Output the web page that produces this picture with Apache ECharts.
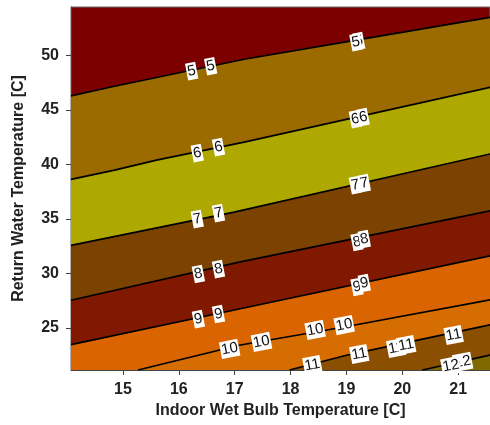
<!DOCTYPE html>
<html><head><meta charset="utf-8">
<script src="https://cdn.jsdelivr.net/npm/echarts@6/dist/echarts.min.js"></script>
<style>html,body{margin:0;padding:0;background:#fff}#c{width:490px;height:425px}</style>
</head><body><div id="c"></div>
<script>
const xTicks = [15, 16, 17, 18, 19, 20, 21];
const yTicks = [25, 30, 35, 40, 45, 50];
const levels = ['5', '6', '7', '8', '9', '10', '11', '12'];
const contour5  = [[14.07,46.27],[14.85,47.16],[15.6,47.96],[17.17,49.63],[19.2,51.4],[21.57,53.47]];
const contour6  = [[14.07,38.62],[14.85,39.47],[15.6,40.38],[17.17,42.03],[21.57,47.06]];
const contour7  = [[14.07,32.57],[16.99,35.62],[21.57,40.95]];
const contour8  = [[14.07,27.54],[17.08,31.04],[21.57,35.73]];
const contour9  = [[14.07,23.47],[17.08,26.74],[21.57,31.61]];
const contour10 = [[15.27,21.15],[17.08,23.42],[18.96,25.09],[21.57,27.58]];
const contour11 = [[17.98,21.15],[19.0,22.50],[19.98,23.56],[21.57,25.29]];
const contour12 = [[20.36,21.15],[21.57,22.52]];
const topColor = '#7d0000';
const bandColors = ['#9c6b00', '#afa800', '#7b4200', '#801900', '#da6500', '#d66d00', '#8a4f00', '#7f6a00'];
const contourLabels = [
  [16.23,48.54,'5'],[16.57,48.99,'5'],[19.22,51.30,'5'],[19.17,51.19,'5'],
  [16.33,41.03,'6'],[16.71,41.58,'6'],[19.16,44.14,'6'],[19.30,44.32,'6'],
  [16.33,34.98,'7'],[16.71,35.53,'7'],[19.16,38.10,'7'],[19.32,38.28,'7'],
  [16.35,29.95,'8'],[16.71,30.40,'8'],[19.19,32.88,'8'],[19.32,33.15,'8'],
  [16.35,25.82,'9'],[16.71,26.28,'9'],[19.19,28.76,'9'],[19.32,29.12,'9'],
  [16.91,23.08,'10'],[17.48,23.72,'10'],[18.44,24.82,'10'],[18.96,25.27,'10'],
  [18.39,21.61,'11'],[19.23,22.62,'11'],[19.89,23.17,'11'],[20.07,23.44,'11'],[20.92,24.36,'11'],
  [21.08,21.89,'12'],[20.87,21.52,'12']
];

const contours = [contour5, contour6, contour7, contour8, contour9, contour10, contour11, contour12];
const series = contours.map((d, i) => ({
  type: 'line', name: levels[i], data: d, symbol: 'none', smooth: false, clip: true,
  lineStyle: { color: '#000', width: 1.7 },
  areaStyle: { color: bandColors[i], opacity: 1, origin: 'start' },
  z: 2 + i, silent: true, animation: false
}));
series.push({
  type: 'scatter', data: contourLabels, symbol: 'circle', symbolSize: 2,
  itemStyle: { color: 'rgba(0,0,0,0)' }, z: 20,
  animation: false, silent: true,
  label: {
    show: true, position: 'inside', rotate: 11,
    formatter: p => String(p.value[2]),
    color: '#111', fontSize: 15, fontFamily: 'Liberation Sans, Arial, sans-serif',
    backgroundColor: '#fff', padding: [1, 1, 0, 1], lineHeight: 16, opacity: 1
  }
});

const axisFont = { fontFamily: 'Liberation Sans, Arial, sans-serif', fontWeight: 'bold', fontSize: 16, color: '#222' };
const chart = echarts.init(document.getElementById('c'), null, { renderer: 'canvas' });
chart.setOption({
  animation: false,
  backgroundColor: '#fff',
  grid: { left: 71, top: 7, right: -1, bottom: 55, show: true, backgroundColor: topColor, borderColor: '#666', borderWidth: 1 },
  xAxis: {
    type: 'value', min: 14.07, max: 21.57, splitNumber: 7,
    name: 'Indoor Wet Bulb Temperature [C]', nameLocation: 'middle', nameGap: 32,
    nameTextStyle: Object.assign({}, axisFont),
    axisLine: { show: true, onZero: false, lineStyle: { color: '#444', width: 1 } },
    axisTick: { show: true, length: 5, customValues: xTicks, lineStyle: { color: '#444' } },
    axisLabel: Object.assign({ customValues: xTicks, margin: 12 }, axisFont),
    splitLine: { show: false }
  },
  yAxis: {
    type: 'value', min: 21.15, max: 54.42, splitNumber: 6,
    name: 'Return Water Temperature [C]', nameLocation: 'middle', nameGap: 44,
    nameTextStyle: Object.assign({}, axisFont),
    axisLine: { show: true, onZero: false, lineStyle: { color: '#444', width: 1 } },
    axisTick: { show: true, length: 5, customValues: yTicks, lineStyle: { color: '#444' } },
    axisLabel: Object.assign({ customValues: yTicks, margin: 12 }, axisFont),
    splitLine: { show: false }
  },
  series: series
});
</script></body></html>
